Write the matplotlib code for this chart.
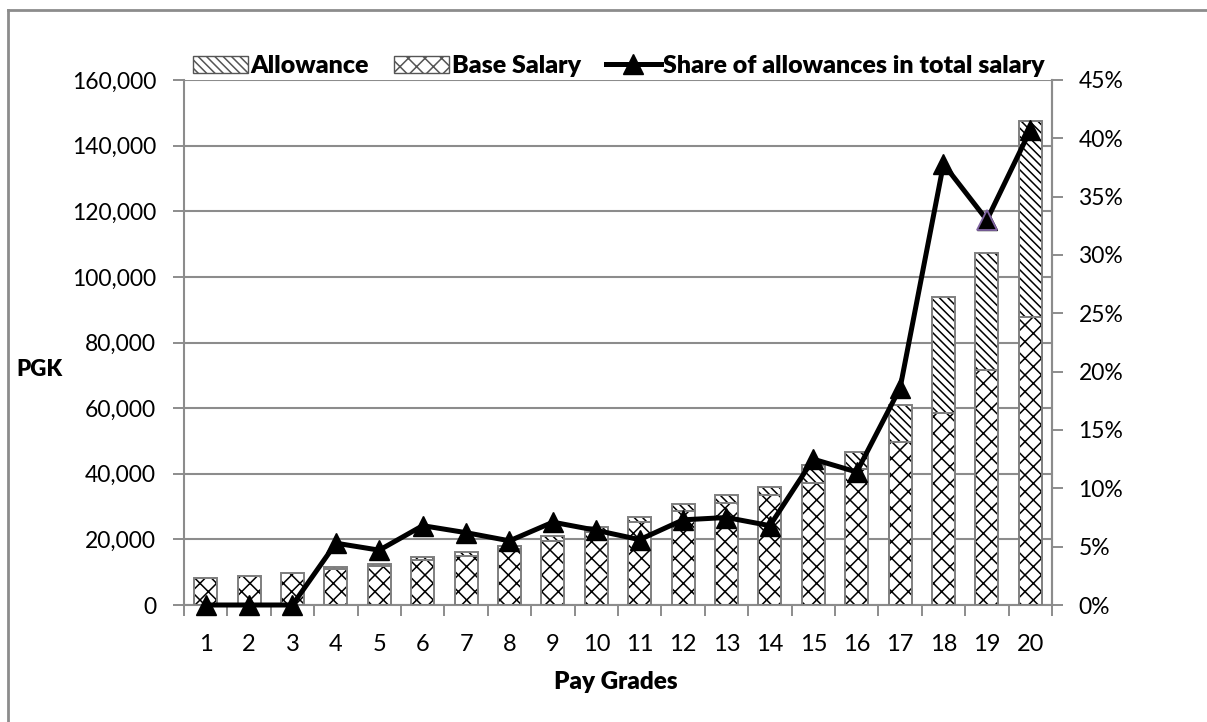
import matplotlib
matplotlib.use("Agg")
import matplotlib.pyplot as plt
from matplotlib.patches import Patch
from matplotlib.lines import Line2D
from matplotlib.ticker import FuncFormatter, MultipleLocator
import numpy as np

# Annual pay by grade (PGK)
grades = [str(g) for g in range(1, 21)]
base_salary = [8300, 8700, 9650, 10900, 11900, 13600, 15000, 17000, 19600, 22300,
               25400, 28500, 31000, 33600, 37200, 41300, 49600, 58500, 71600, 87700]
allowance = [0, 0, 0, 600, 650, 950, 1050, 1000, 1450, 1400,
             1500, 2300, 2500, 2500, 5400, 5300, 11400, 35500, 35600, 59900]
# Share of allowances in total salary (%)
share_pct = [0, 0, 0, 5.3, 4.7, 6.8, 6.2, 5.5, 7.1, 6.4,
             5.6, 7.3, 7.5, 6.8, 12.5, 11.4, 18.6, 37.8, 33.0, 40.7]

FONT = "Lato"
plt.rcParams["font.family"] = [FONT, "DejaVu Sans"]
plt.rcParams["hatch.linewidth"] = 1.1

GRAY = "#8c8c8c"
EDGE = "#7f7f7f"

fig = plt.figure(figsize=(12.07, 7.22), dpi=100)
ax = fig.add_axes([184 / 1207, 1 - 605 / 722, (1052 - 184) / 1207, (605 - 80) / 722])

x = np.arange(len(grades))
w = 0.53
base = np.array(base_salary)
allow = np.array(allowance)

HATCH_BASE = "xx"
HATCH_ALLOW = "\\\\\\\\"

# hatched fills (hatch drawn in black), then grey outlines on top
ax.bar(x, base, width=w, color="white", edgecolor="black", hatch=HATCH_BASE, linewidth=0, zorder=2)
ax.bar(x, allow, width=w, bottom=base, color="white", edgecolor="black",
       hatch=HATCH_ALLOW, linewidth=0, zorder=2)
ax.bar(x, base, width=w, fill=False, edgecolor=EDGE, linewidth=1.4, zorder=3)
ax.bar(x, allow, width=w, bottom=base, fill=False, edgecolor=EDGE, linewidth=1.4, zorder=3)

ax.set_xlim(-0.5, len(grades) - 0.5)
ax.set_ylim(0, 160000)
ax.yaxis.set_major_locator(MultipleLocator(20000))
ax.yaxis.set_major_formatter(FuncFormatter(lambda v, p: f"{v:,.0f}"))
ax.grid(axis="y", color=GRAY, linewidth=1.5)
ax.set_axisbelow(True)

ax.set_xticks(x)
ax.set_xticklabels(grades)
ax.set_xticks(np.arange(-0.5, len(grades)), minor=True)
ax.tick_params(axis="x", which="major", length=0, pad=21, labelsize=17)
ax.tick_params(axis="x", which="minor", length=8, width=1.4, color=GRAY)
ax.tick_params(axis="y", length=8, width=1.4, color=GRAY, pad=12, labelsize=16.5)

for side in ("left", "bottom", "right"):
    ax.spines[side].set_color(GRAY)
    ax.spines[side].set_linewidth(1.5)
ax.spines["top"].set_visible(False)

# share line on the secondary axis
ax2 = ax.twinx()
share = np.array(share_pct) / 100
ax2.plot(x, share, color="black", linewidth=3.6, marker="^", markersize=14,
         markerfacecolor="black", markeredgecolor="black", zorder=5, clip_on=False)
ax2.plot(x[18], share[18], linestyle="none", marker="^", markersize=14,
         markerfacecolor="black", markeredgecolor="#8064a2", markeredgewidth=1.3,
         zorder=6, clip_on=False)
ax2.set_ylim(0, 0.45)
ax2.yaxis.set_major_locator(MultipleLocator(0.05))
ax2.yaxis.set_major_formatter(FuncFormatter(lambda v, p: f"{v * 100:.0f}%"))
ax2.tick_params(axis="y", length=8, width=1.4, color=GRAY, pad=11, labelsize=16.5)
for side in ("left", "bottom", "right", "top"):
    ax2.spines[side].set_visible(False)
ax2.spines["right"].set_visible(True)
ax2.spines["right"].set_color(GRAY)
ax2.spines["right"].set_linewidth(1.5)

# axis titles
fig.text(39 / 1207, 1 - 369 / 722, "PGK", fontsize=16, fontweight="heavy",
         ha="center", va="center")
fig.text(616 / 1207, 1 - 682 / 722, "Pay Grades", fontsize=17.5, fontweight="heavy",
         ha="center", va="center")

# legend
handles = [
    Patch(facecolor="white", edgecolor="#555555", hatch=HATCH_ALLOW, linewidth=1),
    Patch(facecolor="white", edgecolor="#555555", hatch=HATCH_BASE, linewidth=1),
    Line2D([0], [0], color="black", linewidth=3.6, marker="^", markersize=14),
]
labels = ["Allowance", "Base Salary", "Share of allowances in total salary"]
fig.legend(handles, labels, loc="center", bbox_to_anchor=(619 / 1207, 1 - 66 / 722),
           ncol=3, frameon=False, prop={"family": FONT, "weight": "heavy", "size": 18},
           handlelength=2.2, handleheight=0.65, handletextpad=0.1, columnspacing=1.0,
           borderpad=0, borderaxespad=0)

# chart border
fig.add_artist(Line2D([8 / 1207, 8 / 1207], [0, 1 - 10 / 722], transform=fig.transFigure,
                      color=GRAY, linewidth=2))
fig.add_artist(Line2D([8 / 1207, 1], [1 - 10 / 722, 1 - 10 / 722], transform=fig.transFigure,
                      color=GRAY, linewidth=2))

fig.savefig("out.png", dpi=100)
